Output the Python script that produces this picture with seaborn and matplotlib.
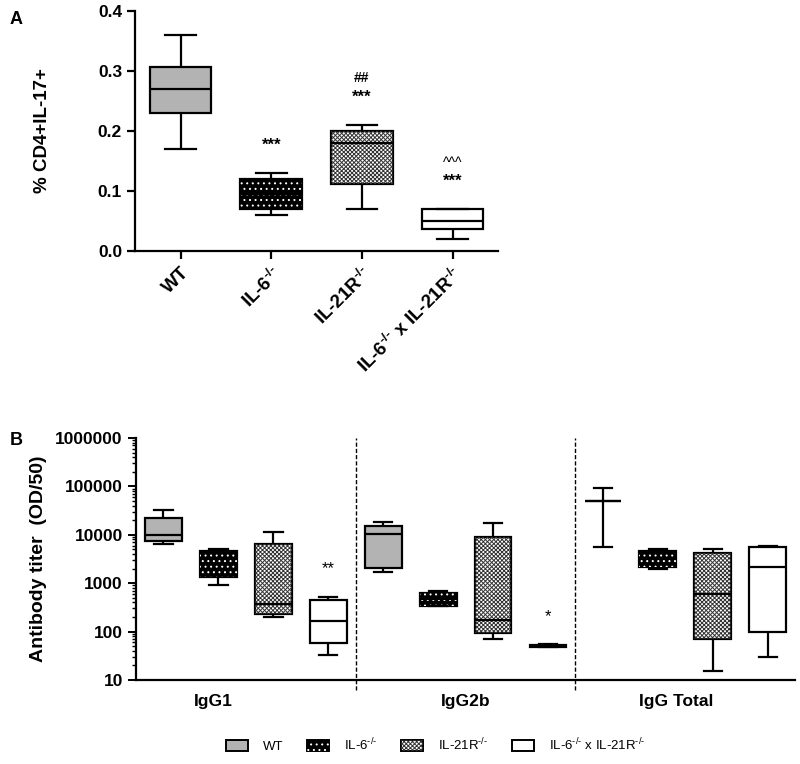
import numpy as np
import pandas as pd
import matplotlib
matplotlib.use("Agg")
import matplotlib.pyplot as plt
import seaborn as sns
from matplotlib.patches import Patch, PathPatch
from matplotlib.ticker import LogLocator, NullFormatter, FuncFormatter
from matplotlib.legend_handler import HandlerTuple

# --- data: each list is min, q1, median, q3, max ---
ko = "$^{\u2010/\u2010}$"
genotypes = ["WT", "IL-6" + ko, "IL-21R" + ko, "IL-6" + ko + " x IL-21R" + ko]

# panel A, % CD4+IL-17+
th17_wt = [0.17, 0.23, 0.27, 0.307, 0.36]
th17_il6 = [0.06, 0.07, 0.095, 0.12, 0.13]
th17_il21r = [0.07, 0.112, 0.18, 0.20, 0.21]
th17_dko = [0.02, 0.037, 0.05, 0.07, 0.07]

# panel B, antibody titer (OD/50)
isotypes = ["IgG1", "IgG2b", "IgG Total"]
igg1_wt = [6300, 7300, 10000, 22000, 32000]
igg1_il6 = [910, 1350, 2500, 4700, 5000]
igg1_il21r = [200, 230, 380, 6600, 11300]
igg1_dko = [33, 59, 165, 450, 525]
igg2b_wt = [1740, 2050, 10300, 15000, 18000]
igg2b_il6 = [340, 345, 480, 630, 690]
igg2b_il21r = [71, 92, 170, 9100, 17500]
igg2b_dko = [48, 49, 51, 53, 55]
iggt_wt = [5600, 50000, 50000, 50000, 91000]
iggt_il6 = [2000, 2200, 3300, 4650, 5000]
iggt_il21r = [15, 70, 600, 4150, 5200]
iggt_dko = [30, 100, 2200, 5600, 5900]

# significance marks (group index -> marks, heights)
sig_a = {1: ["***"], 2: ["***", "##"], 3: ["***", "^^^"]}
sig_a_y = {1: [0.177], 2: [0.257, 0.288], 3: [0.117, 0.147]}

colors = ["#b3b3b3", "#000000", "#ffffff", "#ffffff"]

plt.rcParams["font.family"] = ["Liberation Sans", "DejaVu Sans"]
plt.rcParams["mathtext.default"] = "regular"
plt.rcParams["hatch.linewidth"] = 0.7

dfA = pd.DataFrame({
    "genotype": np.repeat(genotypes, 5),
    "value": th17_wt + th17_il6 + th17_il21r + th17_dko,
})

rowsB = []
for iso, vals in zip(isotypes, [
        [igg1_wt, igg1_il6, igg1_il21r, igg1_dko],
        [igg2b_wt, igg2b_il6, igg2b_il21r, igg2b_dko],
        [iggt_wt, iggt_il6, iggt_il21r, iggt_dko]]):
    for g, v in zip(genotypes, vals):
        for x in v:
            rowsB.append((iso, g, x))
dfB = pd.DataFrame(rowsB, columns=["isotype", "genotype", "titer"])

HATCH = {1: ("white", "..."), 2: ("#333333", "xxxxxxxx")}


def style_patch(ax, patch, hue_idx):
    # IL-6: black with white dots, IL-21R: fine checker pattern
    if hue_idx in HATCH:
        hc, h = HATCH[hue_idx]
        over = PathPatch(patch.get_path(), transform=patch.get_transform(),
                         facecolor="none", edgecolor=hc, hatch=h,
                         linewidth=0, zorder=patch.get_zorder() + 0.01)
        ax.add_patch(over)


fig = plt.figure(figsize=(8, 7.64), dpi=100)

# --- panel A ---
axA = fig.add_axes([0.169, 0.6715, 0.4535, 0.314])
sns.boxplot(data=dfA, x="genotype", y="value", hue="genotype", palette=colors,
            saturation=1, whis=(0, 100), width=0.68, linewidth=1.6,
            linecolor="black", legend=False, ax=axA)
for p in list(axA.patches):
    xs = p.get_path().vertices[:, 0]
    style_patch(axA, p, int(round(xs.mean())))
for p in axA.lines:
    p.set_zorder(3)
axA.set_ylim(0, 0.4)
axA.set_xlim(-0.5, 3.5)
axA.set_yticks(np.arange(0, 0.41, 0.1))
axA.yaxis.set_major_formatter(FuncFormatter(lambda v, p: f"{v:.1f}"))
axA.set_xlabel("")
axA.set_ylabel("% CD4+IL-17+", fontsize=13.5, fontweight="bold", labelpad=34)
axA.tick_params(axis="y", width=1.6, length=6, labelsize=12.5)
axA.tick_params(axis="x", width=1.6, length=6, labelsize=13.5)
plt.setp(axA.get_yticklabels(), fontweight="bold")
plt.setp(axA.get_xticklabels(), fontweight="bold", rotation=45, ha="right",
         rotation_mode="anchor")
for s in ["top", "right"]:
    axA.spines[s].set_visible(False)
for s in ["left", "bottom"]:
    axA.spines[s].set_linewidth(1.6)
for i, marks in sig_a.items():
    for m, y in zip(marks, sig_a_y[i]):
        axA.text(i, y, m, ha="center", va="center",
                 fontsize=12 if m == "***" else 10,
                 fontweight="normal" if m == "^^^" else "bold")

# --- panel B ---
axB = fig.add_axes([0.17, 0.11, 0.824, 0.3167])
sns.boxplot(data=dfB, x="isotype", y="titer", hue="genotype", hue_order=genotypes,
            palette=colors, saturation=1, whis=(0, 100), width=1.0, gap=0.33,
            linewidth=1.6, linecolor="black", log_scale=True, legend=False, ax=axB)
for p in list(axB.patches):
    xs = p.get_path().vertices[:, 0]
    xc = xs.mean()
    off = xc - round(xc)
    style_patch(axB, p, int(round((off + 0.375) / 0.25)))
for p in axB.lines:
    p.set_zorder(3)
axB.set_ylim(10, 1e6)
axB.set_xlim(-0.5, 2.5)
axB.set_xticks([-0.15, 1, 1.96])
axB.set_xticklabels(isotypes)
axB.yaxis.set_major_locator(LogLocator(base=10, numticks=10))
axB.yaxis.set_minor_locator(LogLocator(base=10, subs=np.arange(2, 10), numticks=20))
axB.yaxis.set_minor_formatter(NullFormatter())
axB.yaxis.set_major_formatter(FuncFormatter(lambda v, p: f"{v:.0f}"))
axB.set_xlabel("")
axB.set_ylabel("Antibody titer  (OD/50)", fontsize=14, fontweight="bold", labelpad=6)
axB.tick_params(axis="y", which="major", width=1.4, length=6, labelsize=12.5)
axB.tick_params(axis="y", which="minor", width=1.0, length=3)
axB.tick_params(axis="x", length=0, labelsize=12.5, pad=10)
plt.setp(axB.get_yticklabels(), fontweight="bold")
plt.setp(axB.get_xticklabels(), fontweight="bold")
for s in ["top", "right"]:
    axB.spines[s].set_visible(False)
for s in ["left", "bottom"]:
    axB.spines[s].set_linewidth(1.6)
for xv in [0.5, 1.5]:
    axB.axvline(xv, ymin=-0.04, ymax=1.0, color="black", lw=1.0,
                ls=(0, (3, 1.5)), clip_on=False, zorder=1)
axB.text(0.375, 2000, "**", ha="center", va="center", fontsize=12)
axB.text(1.375, 200, "*", ha="center", va="center", fontsize=12)

fig.text(0.012, 0.975, "A", fontsize=13, fontweight="bold", va="center")
fig.text(0.012, 0.424, "B", fontsize=13, fontweight="bold", va="center")

# --- legend ---
handles = []
for i, c in enumerate(colors):
    base = Patch(facecolor=c, edgecolor="black", linewidth=1.4)
    if i in HATCH:
        hc, h = HATCH[i]
        handles.append((base, Patch(facecolor="none", edgecolor=hc,
                                    hatch=h, linewidth=0)))
    else:
        handles.append(base)
fig.legend(handles, genotypes, loc="center", bbox_to_anchor=(0.544, 0.025),
           ncol=4, frameon=False, fontsize=9.5, handlelength=1.7, handleheight=0.9,
           columnspacing=1.8, handletextpad=1.1,
           handler_map={tuple: HandlerTuple(ndivide=1, pad=0)})

fig.savefig("out.png", dpi=100)
